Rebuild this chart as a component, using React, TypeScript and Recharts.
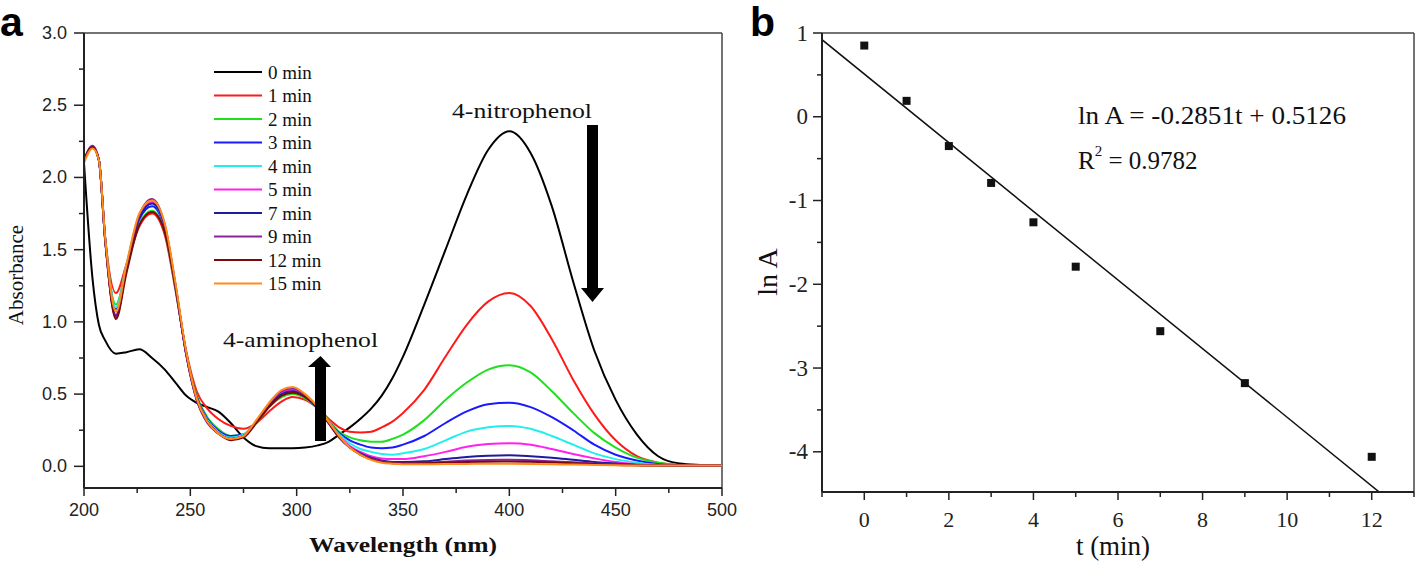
import React from "react";
import { LineChart, Line, XAxis, YAxis, ReferenceLine, ComposedChart, Scatter } from "recharts";

// panel a: UV-vis spectra
const wavelengths = [200, 204, 207, 210, 215, 220, 226, 232, 238, 243, 248, 253, 258, 263, 269, 275, 281, 287, 293, 298, 304, 310, 315, 320, 325, 330, 335, 340, 345, 350, 360, 370, 380, 390, 400, 410, 420, 430, 440, 450, 460, 470, 480, 490, 500];

const abs0 = [2.10, 1.30, 0.98, 0.87, 0.78, 0.79, 0.81, 0.75, 0.67, 0.58, 0.49, 0.44, 0.41, 0.38, 0.30, 0.20, 0.14, 0.125, 0.125, 0.125, 0.13, 0.145, 0.17, 0.22, 0.27, 0.33, 0.40, 0.49, 0.61, 0.76, 1.12, 1.50, 1.88, 2.19, 2.32, 2.17, 1.80, 1.28, 0.80, 0.46, 0.22, 0.07, 0.02, 0.01, 0.005];
const abs1 = [2.12, 2.21, 2.12, 1.58, 1.20, 1.40, 1.66, 1.75, 1.60, 1.22, 0.80, 0.52, 0.40, 0.33, 0.28, 0.26, 0.30, 0.38, 0.45, 0.48, 0.46, 0.40, 0.33, 0.27, 0.24, 0.235, 0.24, 0.27, 0.31, 0.37, 0.53, 0.76, 0.98, 1.14, 1.20, 1.11, 0.88, 0.60, 0.36, 0.18, 0.07, 0.025, 0.01, 0.005, 0.005];
const abs2 = [2.12, 2.21, 2.12, 1.57, 1.12, 1.38, 1.68, 1.77, 1.62, 1.23, 0.79, 0.49, 0.34, 0.26, 0.21, 0.22, 0.30, 0.41, 0.48, 0.50, 0.47, 0.40, 0.32, 0.24, 0.20, 0.18, 0.17, 0.17, 0.19, 0.22, 0.32, 0.46, 0.58, 0.67, 0.70, 0.65, 0.52, 0.37, 0.23, 0.13, 0.06, 0.025, 0.01, 0.005, 0.005];
const abs3 = [2.12, 2.21, 2.12, 1.57, 1.09, 1.39, 1.71, 1.80, 1.64, 1.24, 0.79, 0.48, 0.33, 0.25, 0.21, 0.22, 0.31, 0.42, 0.50, 0.52, 0.48, 0.40, 0.31, 0.23, 0.18, 0.15, 0.13, 0.125, 0.13, 0.15, 0.21, 0.30, 0.38, 0.43, 0.44, 0.41, 0.34, 0.25, 0.15, 0.08, 0.04, 0.015, 0.008, 0.005, 0.005];
const abs4 = [2.12, 2.22, 2.12, 1.57, 1.10, 1.40, 1.73, 1.82, 1.65, 1.24, 0.78, 0.47, 0.32, 0.24, 0.20, 0.22, 0.31, 0.42, 0.50, 0.52, 0.48, 0.40, 0.31, 0.22, 0.16, 0.12, 0.10, 0.085, 0.08, 0.09, 0.12, 0.18, 0.24, 0.27, 0.28, 0.26, 0.21, 0.15, 0.09, 0.05, 0.025, 0.01, 0.006, 0.005, 0.005];
const abs5 = [2.12, 2.21, 2.12, 1.56, 1.05, 1.38, 1.73, 1.83, 1.66, 1.25, 0.78, 0.46, 0.31, 0.23, 0.19, 0.21, 0.31, 0.43, 0.51, 0.53, 0.49, 0.40, 0.31, 0.21, 0.14, 0.10, 0.07, 0.055, 0.05, 0.05, 0.07, 0.10, 0.135, 0.155, 0.16, 0.15, 0.12, 0.085, 0.055, 0.03, 0.015, 0.008, 0.005, 0.005, 0.005];
const abs7 = [2.12, 2.21, 2.12, 1.56, 1.04, 1.37, 1.72, 1.82, 1.66, 1.25, 0.78, 0.46, 0.31, 0.23, 0.19, 0.21, 0.31, 0.42, 0.50, 0.52, 0.48, 0.40, 0.30, 0.20, 0.13, 0.09, 0.06, 0.04, 0.03, 0.03, 0.035, 0.05, 0.065, 0.073, 0.076, 0.07, 0.06, 0.045, 0.03, 0.02, 0.01, 0.007, 0.005, 0.005, 0.005];
const abs9 = [2.12, 2.22, 2.12, 1.56, 1.03, 1.38, 1.74, 1.85, 1.67, 1.26, 0.78, 0.46, 0.30, 0.23, 0.19, 0.21, 0.31, 0.43, 0.52, 0.54, 0.49, 0.40, 0.30, 0.20, 0.13, 0.085, 0.055, 0.035, 0.025, 0.022, 0.025, 0.032, 0.04, 0.044, 0.045, 0.042, 0.035, 0.028, 0.02, 0.012, 0.008, 0.006, 0.005, 0.005, 0.005];
const abs12 = [2.12, 2.21, 2.12, 1.56, 1.02, 1.34, 1.67, 1.76, 1.62, 1.24, 0.79, 0.47, 0.31, 0.23, 0.18, 0.20, 0.30, 0.41, 0.49, 0.51, 0.48, 0.40, 0.30, 0.20, 0.13, 0.08, 0.05, 0.03, 0.022, 0.02, 0.022, 0.026, 0.03, 0.032, 0.033, 0.031, 0.027, 0.022, 0.016, 0.01, 0.007, 0.005, 0.005, 0.005, 0.005];
const abs15 = [2.10, 2.20, 2.12, 1.58, 1.07, 1.40, 1.75, 1.84, 1.68, 1.27, 0.80, 0.47, 0.31, 0.23, 0.19, 0.21, 0.32, 0.44, 0.53, 0.55, 0.50, 0.41, 0.31, 0.21, 0.13, 0.08, 0.045, 0.025, 0.018, 0.015, 0.015, 0.016, 0.017, 0.018, 0.018, 0.017, 0.015, 0.012, 0.01, 0.008, 0.006, 0.005, 0.005, 0.005, 0.005];

const seriesNames = ["0 min", "1 min", "2 min", "3 min", "4 min", "5 min", "7 min", "9 min", "12 min", "15 min"];
const seriesColors = ["#000000", "#ff1a1a", "#1ee01e", "#1a1aff", "#22eeee", "#ff22ee", "#1c1c9c", "#8a229c", "#7a0a0a", "#ff8c1a"];
const allSeries = [abs0, abs1, abs2, abs3, abs4, abs5, abs7, abs9, abs12, abs15];

const wlTicks = [200, 225, 250, 275, 300, 325, 350, 375, 400, 425, 450, 475, 500];
const absTicks = [0, 0.25, 0.5, 0.75, 1, 1.25, 1.5, 1.75, 2, 2.25, 2.5, 2.75, 3];

const spectra = wavelengths.map((wl, i) => {
  const row: Record<string, number> = { wl };
  allSeries.forEach((s, k) => { row[`s${k}`] = s[i]; });
  return row;
});

// panel b: kinetics
const timePoints = [0, 1, 2, 3, 4, 5, 7, 9, 12];
const lnA = [0.85, 0.19, -0.35, -0.79, -1.26, -1.79, -2.56, -3.18, -4.06];
const fitT = [-1, 12.2];
const fitLnA = [0.92, -4.49];
const tTicks = [-1, 0, 1, 2, 3, 4, 5, 6, 7, 8, 9, 10, 11, 12, 13];
const lnTicks = [1, 0.5, 0, -0.5, -1, -1.5, -2, -2.5, -3, -3.5, -4];

const kinPoints = timePoints.map((t, i) => ({ t, v: lnA[i] }));
const fitPoints = fitT.map((t, i) => ({ t, v: fitLnA[i] }));

const SANS = "'Liberation Sans', Arial, sans-serif";
const SERIF = "'Liberation Serif', 'Times New Roman', serif";
const AXIS = "#222";

const SpecXTick = (props: any) => {
  const { x, y, payload } = props;
  const major = payload.value % 50 === 0;
  return (
    <g>
      <line x1={x} y1={y} x2={x} y2={y + (major ? 8 : 5)} stroke={AXIS} strokeWidth={1.5} />
      {major && (
        <text x={x} y={y + 22} textAnchor="middle" dominantBaseline="central" fontFamily={SANS} fontSize={18} fill="#222">
          {payload.value}
        </text>
      )}
    </g>
  );
};

const SpecYTick = (props: any) => {
  const { x, y, payload } = props;
  const major = Math.abs(payload.value * 2 - Math.round(payload.value * 2)) < 1e-6;
  return (
    <g>
      <line x1={x} y1={y} x2={x - (major ? 10 : 5)} y2={y} stroke={AXIS} strokeWidth={1.5} />
      {major && (
        <text x={x - 17} y={y} textAnchor="end" dominantBaseline="central" fontFamily={SANS} fontSize={18} fill="#222">
          {payload.value.toFixed(1)}
        </text>
      )}
    </g>
  );
};

const KinXTick = (props: any) => {
  const { x, y, payload } = props;
  const major = payload.value >= 0 && payload.value % 2 === 0;
  return (
    <g>
      <line x1={x} y1={y} x2={x} y2={y + (major ? 8 : 5)} stroke={AXIS} strokeWidth={1.5} />
      {major && (
        <text x={x} y={y + 27} textAnchor="middle" dominantBaseline="central" fontFamily={SERIF} fontSize={22} fill="#222">
          {payload.value}
        </text>
      )}
    </g>
  );
};

const KinYTick = (props: any) => {
  const { x, y, payload } = props;
  const major = Number.isInteger(payload.value);
  return (
    <g>
      <line x1={x} y1={y} x2={x - (major ? 9 : 5)} y2={y} stroke={AXIS} strokeWidth={1.5} />
      {major && (
        <text x={x - 14} y={y} textAnchor="end" dominantBaseline="central" fontFamily={SERIF} fontSize={23} fill="#222">
          {String(payload.value)}
        </text>
      )}
    </g>
  );
};

const SquareDot = (props: any) => {
  const { cx, cy } = props;
  return <rect x={cx - 4} y={cy - 4} width={8} height={8} fill="#111" />;
};

export default function App() {
  return (
    <div style={{ position: "absolute", left: 0, top: 0, width: 1418, height: 561, background: "#fff" }}>
      <div style={{ position: "absolute", left: 0, top: 0 }}>
        <LineChart width={740} height={561} data={spectra} margin={{ top: 33, right: 18, left: 24, bottom: 43 }}>
          <XAxis dataKey="wl" type="number" domain={[200, 500]} ticks={wlTicks} interval={0} tick={<SpecXTick />}
            tickSize={0} tickMargin={0} tickLine={false} height={30} allowDataOverflow
            axisLine={{ stroke: AXIS, strokeWidth: 2 }} />
          <YAxis type="number" domain={[-0.15, 3]} ticks={absTicks} interval={0} tick={<SpecYTick />}
            tickSize={0} tickMargin={0} tickLine={false} width={60} allowDataOverflow
            axisLine={{ stroke: AXIS, strokeWidth: 2 }} />
          <ReferenceLine y={3} stroke="#444" strokeWidth={1.5} />
          <ReferenceLine x={500} stroke="#444" strokeWidth={1.5} />
          {allSeries.map((_, k) => (
            <Line key={k} dataKey={`s${k}`} name={seriesNames[k]} type="monotone" stroke={seriesColors[k]}
              strokeWidth={2} dot={false} isAnimationActive={false} />
          ))}
        </LineChart>
      </div>

      <div style={{ position: "absolute", left: 740, top: 0 }}>
        <ComposedChart width={678} height={561} margin={{ top: 33, right: 4, left: 22, bottom: 39 }}>
          <XAxis dataKey="t" type="number" domain={[-1, 13]} ticks={tTicks} interval={0} tick={<KinXTick />}
            tickSize={0} tickMargin={0} tickLine={false} height={30} allowDataOverflow
            axisLine={{ stroke: AXIS, strokeWidth: 2 }} />
          <YAxis dataKey="v" type="number" domain={[-4.48, 1]} ticks={lnTicks} interval={0} tick={<KinYTick />}
            tickSize={0} tickMargin={0} tickLine={false} width={60} allowDataOverflow
            axisLine={{ stroke: AXIS, strokeWidth: 2 }} />
          <ReferenceLine y={1} stroke="#444" strokeWidth={1.5} />
          <ReferenceLine x={13} stroke="#444" strokeWidth={1.5} />
          <Line data={fitPoints} dataKey="v" type="linear" stroke="#111" strokeWidth={1.5} dot={false} isAnimationActive={false} />
          <Scatter data={kinPoints} dataKey="v" shape={<SquareDot />} isAnimationActive={false} />
        </ComposedChart>
      </div>

      <svg width={1418} height={561} style={{ position: "absolute", left: 0, top: 0, pointerEvents: "none" }}>
        <text x={0} y={36} fontFamily={SANS} fontWeight="bold" fontSize={41} fill="#000">a</text>
        <text x={750} y={36} fontFamily={SANS} fontWeight="bold" fontSize={41} fill="#000">b</text>

        {seriesNames.map((name, k) => (
          <g key={name}>
            <line x1={214} x2={262} y1={72 + k * 23.5} y2={72 + k * 23.5} stroke={seriesColors[k]} strokeWidth={2} />
            <text x={268} y={72 + k * 23.5} dominantBaseline="central" fontFamily={SERIF} fontSize={19} fill="#111">{name}</text>
          </g>
        ))}

        <text x={452} y={111} dominantBaseline="central" fontFamily={SERIF} fontSize={21} textLength={140}
          lengthAdjust="spacingAndGlyphs" fill="#111">4-nitrophenol</text>
        <rect x={587} y={125} width={11} height={164} fill="#000" />
        <polygon points="581,288 604,288 592.5,302" fill="#000" />

        <text x={223} y={340} dominantBaseline="central" fontFamily={SERIF} fontSize={21} textLength={155}
          lengthAdjust="spacingAndGlyphs" fill="#111">4-aminophenol</text>
        <rect x={315} y={366} width={11} height={75} fill="#000" />
        <polygon points="308,367 331,367 320.5,356" fill="#000" />

        <text x={403} y={544} textAnchor="middle" dominantBaseline="central" fontFamily={SERIF} fontWeight="bold"
          fontSize={22} textLength={188} lengthAdjust="spacingAndGlyphs" fill="#111">Wavelength (nm)</text>
        <text x={16} y={275} textAnchor="middle" dominantBaseline="central" fontFamily={SERIF} fontSize={21}
          transform="rotate(-90 16 275)" fill="#111">Absorbance</text>

        <text x={1078} y={115} dominantBaseline="central" fontFamily={SERIF} fontSize={25} textLength={268}
          lengthAdjust="spacingAndGlyphs" fill="#111">ln A = -0.2851t + 0.5126</text>
        <text x={1078} y={160} dominantBaseline="central" fontFamily={SERIF} fontSize={25} fill="#111">
          R<tspan dy={-9} fontSize={15}>2</tspan><tspan dy={9}> = 0.9782</tspan>
        </text>
        <text x={1113} y={546} textAnchor="middle" dominantBaseline="central" fontFamily={SERIF} fontSize={27} fill="#111">t (min)</text>
        <text x={767} y={272} textAnchor="middle" dominantBaseline="central" fontFamily={SERIF} fontSize={28}
          transform="rotate(-90 767 272)" fill="#111">ln A</text>
      </svg>
    </div>
  );
}
